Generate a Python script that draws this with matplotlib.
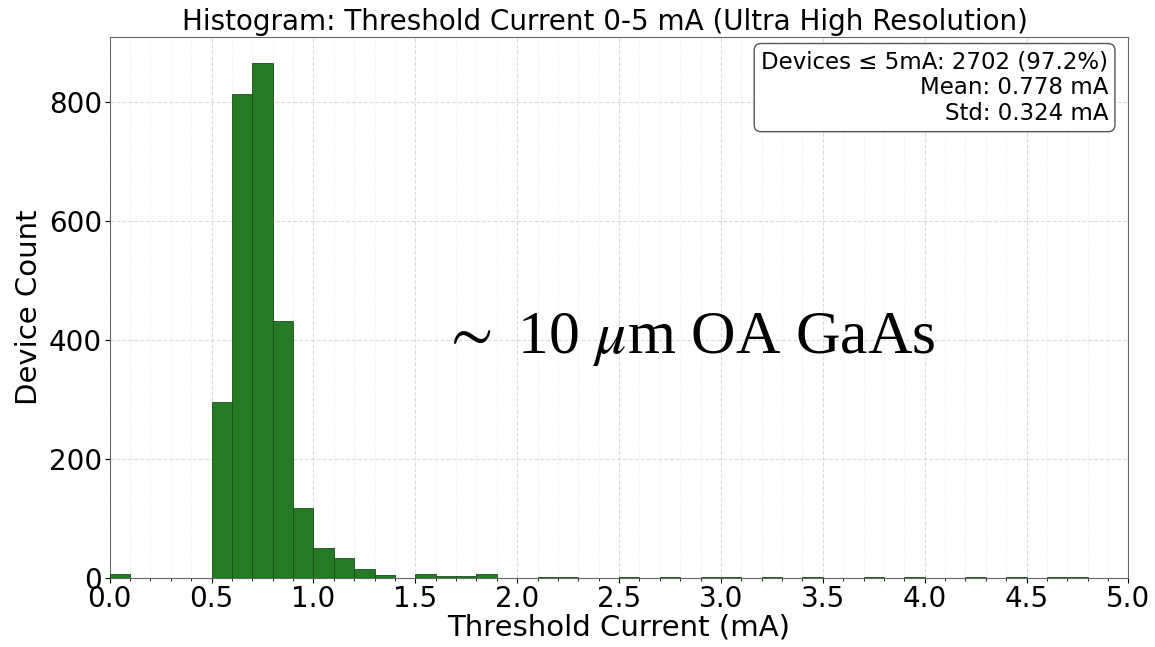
import numpy as np
import matplotlib
matplotlib.use("Agg")
import matplotlib.pyplot as plt
from matplotlib.ticker import MultipleLocator

# bin edges (mA) and device counts per 0.1 mA bin
bin_edges = np.round(np.arange(0.0, 5.01, 0.1), 2)
counts = [7, 0, 0, 0, 0, 296, 814, 866, 432, 118,
          50, 33, 15, 5, 0, 7, 3, 3, 6, 0,
          0, 1, 2, 0, 0, 2, 0, 2, 0, 2,
          1, 0, 2, 0, 1, 0, 0, 2, 0, 1,
          0, 0, 2, 0, 1, 0, 1, 1, 0, 0]

stats_text = "Devices \u2264 5mA: 2702 (97.2%)\nMean: 0.778 mA\nStd: 0.324 mA"
title = "Histogram: Threshold Current 0-5 mA (Ultra High Resolution)"

plt.rcParams['mathtext.fontset'] = 'stix'

fig, ax = plt.subplots(figsize=(11.55, 6.47), dpi=100)
fig.subplots_adjust(left=0.095, right=0.977, top=0.943, bottom=0.107)

ax.hist(bin_edges[:-1], bins=bin_edges, weights=counts,
        color='#267a26', edgecolor='#1a4d1a', linewidth=0.6, zorder=3)

ax.set_xlim(0, 5)
ax.set_ylim(0, 910)
ax.xaxis.set_major_locator(MultipleLocator(0.5))
ax.xaxis.set_minor_locator(MultipleLocator(0.1))
ax.yaxis.set_major_locator(MultipleLocator(200))
ax.tick_params(axis='both', which='major', labelsize=20, pad=2)
ax.tick_params(axis='x', which='minor', length=2.5)

ax.grid(True, which='major', linestyle='--', color='#cccccc', alpha=0.7, zorder=0)
ax.grid(True, which='minor', axis='x', linestyle=':', color='#dddddd', alpha=0.6, zorder=0)

for sp in ax.spines.values():
    sp.set_color('#666666')

ax.set_title(title, fontsize=20, pad=5, x=0.486)
ax.set_xlabel("Threshold Current (mA)", fontsize=21, labelpad=0)
ax.set_ylabel("Device Count", fontsize=21, labelpad=4)

ax.text(0.98, 0.975, stats_text, transform=ax.transAxes, ha='right', va='top',
        fontsize=16.5, linespacing=1.15, zorder=5,
        bbox=dict(boxstyle='round,pad=0.3', facecolor='white', edgecolor='#555555'))

ax.text(0.568, 0.44, r"$\sim$ 10 $\mu$m OA GaAs", transform=ax.transAxes,
        ha='center', va='center', fontsize=44.5, family='Liberation Serif', zorder=5)

fig.savefig("out.png", dpi=100)
